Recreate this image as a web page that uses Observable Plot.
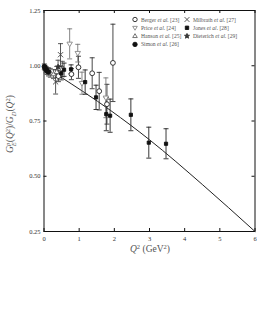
<!DOCTYPE html>
<html>
<head>
<meta charset="utf-8">
<script src="https://cdn.jsdelivr.net/npm/d3@7"></script>
<script src="https://cdn.jsdelivr.net/npm/@observablehq/plot@0.6"></script>
<style>
  html, body { margin: 0; padding: 0; background: #fff; }
  #chart { width: 257px; height: 311px; }
  svg { font-family: "Liberation Serif", "DejaVu Serif", serif; }
</style>
</head>
<body>
<div id="chart"></div>
<script>
// ---- data (Q^2 in GeV^2, ratio, error) ----
const bergerQ2 = [0.41, 0.78, 0.98, 1.37, 1.57, 1.79, 1.96];
const bergerR  = [0.953, 0.962, 0.993, 0.966, 0.885, 0.826, 1.013];
const bergerE  = [0.025, 0.025, 0.05, 0.07, 0.085, 0.09, 0.175];

const priceQ2 = [0.73, 0.96, 1.08, 1.76];
const priceR  = [1.099, 1.057, 0.921, 0.855];
const priceE  = [0.068, 0.04, 0.05, 0.09];

const hansonQ2 = [0.18, 0.27, 0.36, 0.52];
const hansonR  = [0.968, 0.962, 0.972, 0.985];
const hansonE  = [0.02, 0.02, 0.025, 0.035];

const simonQ2 = [0.01, 0.03, 0.06, 0.09, 0.13];
const simonR  = [0.996, 0.99, 0.982, 0.976, 0.972];
const simonE  = [0.012, 0.012, 0.014, 0.015, 0.018];

const milbrathQ2 = [0.33, 0.47];
const milbrathR  = [0.927, 1.05];
const milbrathE  = [0.055, 0.05];

const jonesQ2 = [0.49, 0.57, 0.77, 1.17, 1.48, 1.77, 1.88, 2.47, 2.98, 3.47];
const jonesR  = [0.966, 0.982, 0.984, 0.926, 0.857, 0.781, 0.774, 0.778, 0.652, 0.647];
const jonesE  = [0.03, 0.03, 0.02, 0.055, 0.055, 0.075, 0.075, 0.072, 0.07, 0.068];

const dieterichQ2 = [0.40];
const dieterichR  = [0.995];
const dieterichE  = [0.03];

// fit curve
const fitQ2 = [0.4, 1.9, 3.0, 4.5, 6.0];
const fitR  = [0.957, 0.797, 0.665, 0.463, 0.25];

const xTicks = [0, 1, 2, 3, 4, 5, 6];
const yTicks = [0.25, 0.5, 0.75, 1.0, 1.25];

const legendNames = ["Berger", "Price", "Hanson", "Simon", "Milbrath", "Jones", "Dieterich"];
const legendRefs  = ["[23]", "[24]", "[25]", "[26]", "[27]", "[28]", "[29]"];

// ---- symbols ----
const downTriangle = {
  draw(ctx, size) {
    const r = Math.sqrt(size / Math.PI) * 1.1;
    ctx.moveTo(0, r);
    ctx.lineTo(r * 0.95, -r * 0.6);
    ctx.lineTo(-r * 0.95, -r * 0.6);
    ctx.closePath();
  }
};
const upTriangle = {
  draw(ctx, size) {
    const r = Math.sqrt(size / Math.PI) * 1.1;
    ctx.moveTo(0, -r);
    ctx.lineTo(r * 0.95, r * 0.6);
    ctx.lineTo(-r * 0.95, r * 0.6);
    ctx.closePath();
  }
};
const squareSym = {
  draw(ctx, size) {
    const r = Math.sqrt(size / Math.PI);
    ctx.rect(-r, -r, 2 * r, 2 * r);
  }
};
const cap = {
  draw(ctx, size) {
    const r = Math.sqrt(size / Math.PI);
    ctx.moveTo(-r, 0);
    ctx.lineTo(r, 0);
  }
};
const cross = {
  draw(ctx, size) {
    const r = Math.sqrt(size / Math.PI);
    ctx.moveTo(-r, -r); ctx.lineTo(r, r);
    ctx.moveTo(-r, r); ctx.lineTo(r, -r);
  }
};
const starSym = {
  draw(ctx, size) {
    const R = Math.sqrt(size / Math.PI) * 1.2, r = R * 0.45;
    for (let k = 0; k < 10; k++) {
      const a = -Math.PI / 2 + k * Math.PI / 5;
      const rr = k % 2 ? r : R;
      if (k === 0) ctx.moveTo(rr * Math.cos(a), rr * Math.sin(a));
      else ctx.lineTo(rr * Math.cos(a), rr * Math.sin(a));
    }
    ctx.closePath();
  }
};

function rows(q, r, e) { return q.map((d, i) => ({q: d, r: r[i], e: e[i]})); }

const series = [
  {name: "Berger",    data: rows(bergerQ2, bergerR, bergerE),       symbol: "circle", fill: "white", stroke: "#222", r: 2.4, bar: "#333"},
  {name: "Price",     data: rows(priceQ2, priceR, priceE),          symbol: downTriangle, fill: "white", stroke: "#888", r: 2.6, bar: "#777"},
  {name: "Hanson",    data: rows(hansonQ2, hansonR, hansonE),       symbol: upTriangle, fill: "white", stroke: "#666", r: 2.4, bar: "#555"},
  {name: "Simon",     data: rows(simonQ2, simonR, simonE),          symbol: "circle", fill: "#111", stroke: "#111", r: 2.3, bar: "#333"},
  {name: "Milbrath",  data: rows(milbrathQ2, milbrathR, milbrathE), symbol: cross, fill: "none", stroke: "#444", r: 2.6, bar: "#444"},
  {name: "Jones",     data: rows(jonesQ2, jonesR, jonesE),          symbol: squareSym, fill: "#111", stroke: "#111", r: 1.6, bar: "#222"},
  {name: "Dieterich", data: rows(dieterichQ2, dieterichR, dieterichE), symbol: starSym, fill: "#333", stroke: "#333", r: 2.2, bar: "#444"}
];

const fit = fitQ2.map((d, i) => ({q: d, r: fitR[i]}));

const W = 257, H = 311;
const mL = 43.5, mR = 2.5, mT = 10, mB = 80;
const innerW = W - mL - mR, innerH = H - mT - mB;

const marks = [
  Plot.frame({stroke: "#111", strokeWidth: 1}),
  // inward ticks on all four sides
  Plot.tickX(xTicks, {x: d => d, stroke: "#111", insetTop: innerH - 3}),
  Plot.tickX(xTicks, {x: d => d, stroke: "#111", insetBottom: innerH - 3}),
  Plot.tickY(yTicks, {y: d => d, stroke: "#111", insetRight: innerW - 3}),
  Plot.tickY(yTicks, {y: d => d, stroke: "#111", insetLeft: innerW - 3}),
  Plot.axisX(xTicks, {tickSize: 0, tickPadding: 5, fontSize: 6.5, fill: "#333", label: null, tickFormat: d3.format("d")}),
  Plot.axisY(yTicks, {tickSize: 0, tickPadding: 3.5, fontSize: 6.5, fill: "#333", label: null, tickFormat: d3.format(".2f")}),
  Plot.line(fit, {x: "q", y: "r", stroke: "#222", strokeWidth: 1, curve: "monotone-x"})
];

for (const s of series) {
  marks.push(Plot.ruleX(s.data, {x: "q", y1: d => d.r - d.e, y2: d => d.r + d.e, stroke: s.bar, strokeWidth: 0.9}));
  marks.push(Plot.dot(s.data, {x: "q", y: d => d.r - d.e, symbol: cap, r: 2.5, stroke: s.bar, strokeWidth: 0.9, fill: "none"}));
  marks.push(Plot.dot(s.data, {x: "q", y: d => d.r + d.e, symbol: cap, r: 2.5, stroke: s.bar, strokeWidth: 0.9, fill: "none"}));
}
for (const s of series) {
  marks.push(Plot.dot(s.data, {x: "q", y: "r", symbol: s.symbol, r: s.r, fill: s.fill, stroke: s.stroke, strokeWidth: 0.9}));
}

const chart = Plot.plot({
  width: W, height: H,
  marginLeft: mL, marginRight: mR, marginTop: mT, marginBottom: mB,
  style: {fontFamily: "Liberation Serif, DejaVu Serif, serif", background: "white"},
  x: {domain: [0, 6]},
  y: {domain: [0.25, 1.25]},
  marks
});

const svg = d3.select(chart);

// axis titles
const xl = svg.append("text")
  .attr("x", 150).attr("y", 252)
  .attr("text-anchor", "middle")
  .attr("font-size", 9.5).attr("fill", "#555");
xl.append("tspan").attr("font-style", "italic").text("Q");
xl.append("tspan").attr("font-size", 6.5).attr("dy", -3.5).text("2");
xl.append("tspan").attr("dy", 3.5).text(" (GeV");
xl.append("tspan").attr("font-size", 6.5).attr("dy", -3.5).text("2");
xl.append("tspan").attr("dy", 3.5).text(")");

const yl = svg.append("text")
  .attr("transform", "translate(13,124) rotate(-90)")
  .attr("text-anchor", "middle")
  .attr("font-size", 9.5).attr("fill", "#555");
yl.append("tspan").attr("font-style", "italic").text("G");
yl.append("tspan").attr("font-style", "italic").attr("font-size", 6.5).attr("dy", -3.5).text("p");
yl.append("tspan").attr("font-style", "italic").attr("font-size", 6.5).attr("dx", -3.5).attr("dy", 6).text("E");
yl.append("tspan").attr("dy", -2.5).text("(");
yl.append("tspan").attr("font-style", "italic").text("Q");
yl.append("tspan").attr("font-size", 6.5).attr("dy", -3.5).text("2");
yl.append("tspan").attr("dy", 3.5).text(")/");
yl.append("tspan").attr("font-style", "italic").text("G");
yl.append("tspan").attr("font-style", "italic").attr("font-size", 6.5).attr("dy", 2.5).text("D");
yl.append("tspan").attr("dy", -2.5).text("(");
yl.append("tspan").attr("font-style", "italic").text("Q");
yl.append("tspan").attr("font-size", 6.5).attr("dy", -3.5).text("2");
yl.append("tspan").attr("dy", 3.5).text(")");

// legend
const lg = svg.append("g").attr("font-size", 5.6).attr("fill", "#555").attr("text-anchor", "start");
series.forEach((s, i) => {
  const col = i < 4 ? 0 : 1;
  const row = i < 4 ? i : i - 4;
  const mx = col === 0 ? 135 : 187;
  const my = 19.5 + row * 8.3;
  const sym = typeof s.symbol === "string" ? d3.symbolCircle : s.symbol;
  const lr = s.symbol === cross ? 2.4 : (s.symbol === squareSym ? 1.7 : 2.2);
  lg.append("path")
    .attr("transform", `translate(${mx},${my})`)
    .attr("d", d3.symbol(sym, Math.PI * lr * lr)())
    .attr("fill", s.fill).attr("stroke", s.stroke).attr("stroke-width", 0.9);
  const t = lg.append("text").attr("x", mx + 6).attr("y", my + 2).attr("text-anchor", "start");
  t.append("tspan").text(legendNames[i] + " ");
  t.append("tspan").attr("font-style", "italic").text("et al.");
  t.append("tspan").text(" " + legendRefs[i]);
});

document.getElementById("chart").appendChild(chart);
</script>
</body>
</html>
